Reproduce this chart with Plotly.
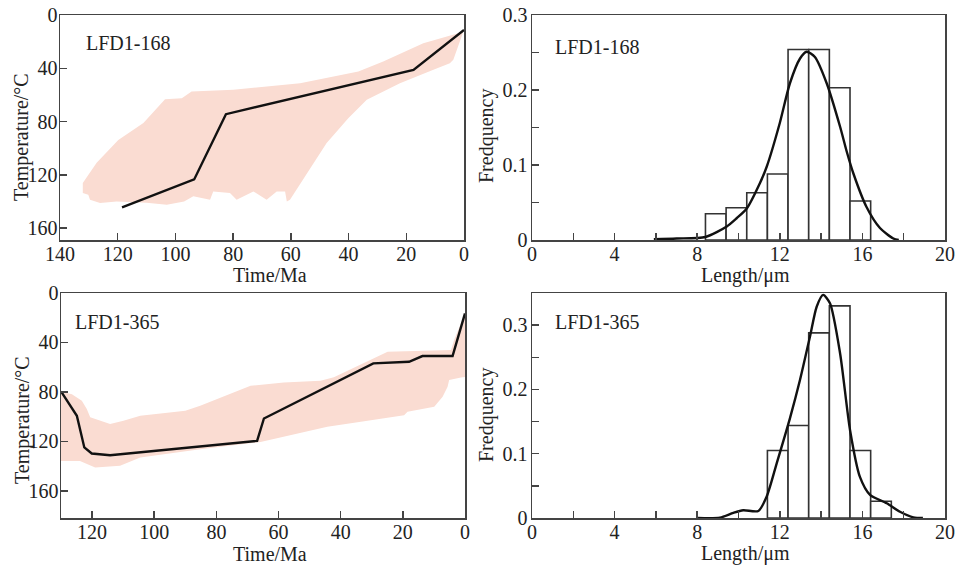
import plotly.graph_objects as go

W, H = 957, 568

# ---------------- data ----------------
# LFD1-168 thermal history
t168_line = [118.5, 93.5, 82.5, 17.5, 0]
T168_line = [144.5, 123.5, 74.5, 41.2, 11.3]
env168_t = [132.1, 127.3, 119.8, 111.1, 103.6, 97.8, 94.4, 79.9, 56.8, 36.6, 28, 14.1, 2, 0,
            3.7, 4.9, 10.6, 22.2, 33.7, 40.1, 47.6, 54.5, 60.3, 61.4, 62, 64.9, 68.4, 73, 78.8,
            81.1, 86.9, 88, 93.8, 97, 103, 110, 120.4, 126.1, 129.6, 130.2, 132.1]
env168_T = [126.2, 111, 93.8, 81.2, 63.2, 62.5, 57.5, 56.2, 51.2, 42.5, 35, 21.2, 13.7, 11,
            33.7, 36.2, 41.2, 51.2, 63.7, 77.5, 96.2, 118.8, 138.7, 140, 132.5, 132.5, 138.7, 132.5, 138.7,
            133.7, 132.5, 138.7, 136.2, 140, 142.5, 141, 140, 141.2, 138.7, 135, 133.7]

# LFD1-365 thermal history
t365_line = [130, 124.9, 122.5, 120.1, 114.2, 66.9, 64.7, 29.5, 18, 13.7, 4, 0]
T365_line = [79.6, 99.3, 124.9, 129.8, 131.2, 119.6, 101.5, 56.9, 55.6, 51, 51, 16.5]
env365_t = [130, 126.5, 123.3, 121.7, 120.6, 114.2, 109.9, 104.5, 90, 85.2, 69, 58.3, 46.5, 42.2,
            24.9, 4.5, 3.5, 0,
            0, 1.3, 5.1, 5.6, 7.2, 9.9, 18.5, 19.6, 33.5, 44.3, 65.8, 85.2, 104.5, 111, 119, 123.9, 130]
env365_T = [79.6, 81.8, 87.2, 93.9, 100.6, 106, 103.4, 99.3, 95.3, 91.2, 75, 72.3, 71, 68.2,
            47.5, 46.2, 38, 16.5,
            68, 68.3, 70.4, 75.8, 84, 92, 96.1, 98.8, 104.2, 108.2, 120.5, 126.3, 133, 139.8, 141.1, 135.8, 135.8]

# track length histograms
bins168 = [8.9, 9.9, 10.9, 11.9, 12.9, 13.9, 14.9, 15.9]
freq168 = [0.035, 0.043, 0.063, 0.088, 0.254, 0.254, 0.203, 0.052]
L168_curve = [5.9, 7.0, 8.4, 9.43, 9.91, 10.4, 11.04, 11.37, 12.0, 12.49, 12.98, 13.3, 13.7,
              14.27, 14.92, 15.24, 15.56, 16.2, 16.85, 17.5, 17.76]
F168_curve = [0.001, 0.002, 0.004, 0.018, 0.029, 0.042, 0.076, 0.098, 0.156, 0.209, 0.242, 0.251, 0.244,
              0.209, 0.151, 0.118, 0.089, 0.044, 0.016, 0.002, 0.0]

bins365 = [11.9, 12.9, 13.9, 14.9, 15.9, 16.9]
freq365 = [0.105, 0.144, 0.288, 0.330, 0.105, 0.026]
L365_curve = [8.04, 9.1, 9.75, 10.23, 10.96, 11.36, 11.85, 12.49, 12.98, 13.46, 13.79, 14.1, 14.43,
              14.92, 15.4, 15.88, 16.37, 17.18, 17.82, 18.47, 18.93]
F365_curve = [0.0, 0.0005, 0.008, 0.012, 0.011, 0.033, 0.085, 0.155, 0.215, 0.282, 0.329, 0.347, 0.334,
              0.256, 0.137, 0.064, 0.036, 0.023, 0.0098, 0.001, 0.0]

time_ticks_top = [140, 120, 100, 80, 60, 40, 20, 0]
time_ticks_bot = [120, 100, 80, 60, 40, 20, 0]
temp_ticks = [0, 40, 80, 120, 160]
len_ticks = [0, 2, 4, 6, 8, 10, 12, 14, 16, 18, 20]
len_text = ["0", "", "4", "", "8", "", "12", "", "16", "", "20"]
f1_ticks = [0, 0.05, 0.1, 0.15, 0.2, 0.25, 0.3]
f1_text = ["0", "", "0.1", "", "0.2", "", "0.3"]

# ---------------- styling ----------------
FONT = "Liberation Serif"
FILL = "#fadcd2"
AX = "#444444"
TXT = "#222222"

def px_x(p):
    return p / W

def px_y(p):
    return 1 - p / H

fig = go.Figure()

# top-left
fig.add_trace(go.Scatter(x=env168_t, y=env168_T, fill="toself", fillcolor=FILL,
                         line=dict(width=0, color=FILL), mode="lines", xaxis="x", yaxis="y"))
fig.add_trace(go.Scatter(x=t168_line, y=T168_line, mode="lines",
                         line=dict(color="#111111", width=2.4), xaxis="x", yaxis="y"))
# top-right
fig.add_trace(go.Bar(x=bins168, y=freq168, width=1, marker=dict(color="white", line=dict(color="#333333", width=1.6)),
                     xaxis="x2", yaxis="y2"))
fig.add_trace(go.Scatter(x=L168_curve, y=F168_curve, mode="lines", line_shape="spline",
                         line=dict(color="#111111", width=2.4, smoothing=0.7), xaxis="x2", yaxis="y2"))
# bottom-left
fig.add_trace(go.Scatter(x=env365_t, y=env365_T, fill="toself", fillcolor=FILL,
                         line=dict(width=0, color=FILL), mode="lines", xaxis="x3", yaxis="y3"))
fig.add_trace(go.Scatter(x=t365_line, y=T365_line, mode="lines",
                         line=dict(color="#111111", width=2.4), xaxis="x3", yaxis="y3"))
# bottom-right
fig.add_trace(go.Bar(x=bins365, y=freq365, width=1, marker=dict(color="white", line=dict(color="#333333", width=1.6)),
                     xaxis="x4", yaxis="y4"))
fig.add_trace(go.Scatter(x=L365_curve, y=F365_curve, mode="lines", line_shape="spline",
                         line=dict(color="#111111", width=2.4, smoothing=0.7), xaxis="x4", yaxis="y4"))

common = dict(showgrid=False, zeroline=False, showline=True, mirror=True, linecolor=AX, linewidth=1.5,
              ticks="inside", ticklen=7, tickwidth=1.5, tickcolor=AX,
              tickfont=dict(family=FONT, size=20, color=TXT), automargin=False, fixedrange=True)

top_dom = [px_y(240), px_y(15)]
bot_dom = [px_y(518), px_y(293)]

fig.update_layout(
    width=W, height=H, margin=dict(l=0, r=0, t=0, b=0),
    font=dict(family=FONT, size=20, color=TXT),
    paper_bgcolor="white", plot_bgcolor="white", showlegend=False, bargap=0,
    xaxis=dict(domain=[px_x(60), px_x(464)], range=[140, 0], tickvals=time_ticks_top, anchor="y",
               ticklabelstandoff=-5, **common),
    yaxis=dict(domain=top_dom, range=[169, 0], tickvals=temp_ticks, anchor="x", ticklabelstandoff=-3, **common),
    xaxis2=dict(domain=[px_x(532), px_x(945)], range=[0, 20], tickvals=len_ticks, ticktext=len_text, anchor="y2",
                ticklabelstandoff=-5, **common),
    yaxis2=dict(domain=top_dom, range=[0, 0.3], tickvals=f1_ticks, ticktext=f1_text, anchor="x2",
                ticklabelstandoff=-1, **common),
    xaxis3=dict(domain=[px_x(61), px_x(465)], range=[130, 0], tickvals=time_ticks_bot, anchor="y3",
                ticklabelstandoff=-5, **common),
    yaxis3=dict(domain=bot_dom, range=[182, 0], tickvals=temp_ticks, anchor="x3", ticklabelstandoff=-3, **common),
    xaxis4=dict(domain=[px_x(532), px_x(945)], range=[0, 20], tickvals=len_ticks, ticktext=len_text, anchor="y4",
                ticklabelstandoff=-5, **common),
    yaxis4=dict(domain=bot_dom, range=[0, 0.35], tickvals=f1_ticks, ticktext=f1_text, anchor="x4",
                ticklabelstandoff=-1, **common),
)

def ann(text, x, y, angle=0, xanchor="center"):
    fig.add_annotation(text=text, x=px_x(x), y=px_y(y), xref="paper", yref="paper", showarrow=False,
                       textangle=angle, xanchor=xanchor, yanchor="middle",
                       font=dict(family=FONT, size=20, color=TXT))

# axis titles
ann("Time/Ma", 270, 275)
ann("Time/Ma", 270, 554)
ann("Length/μm", 745, 275)
ann("Length/μm", 745, 553)
ann("Temperature/°C", 22, 137, angle=-90)
ann("Temperature/°C", 22, 420, angle=-90)
ann("Fredquency", 486, 136, angle=-90)
ann("Fredquency", 486, 415, angle=-90)
# panel labels
ann("LFD1-168", 84, 43, xanchor="left")
ann("LFD1-168", 553, 47, xanchor="left")
ann("LFD1-365", 73, 322, xanchor="left")
ann("LFD1-365", 553, 322, xanchor="left")

fig.write_html("out.html", config={"displayModeBar": False, "staticPlot": True},
               post_script="document.body.style.margin='0';document.body.style.padding='0';")
